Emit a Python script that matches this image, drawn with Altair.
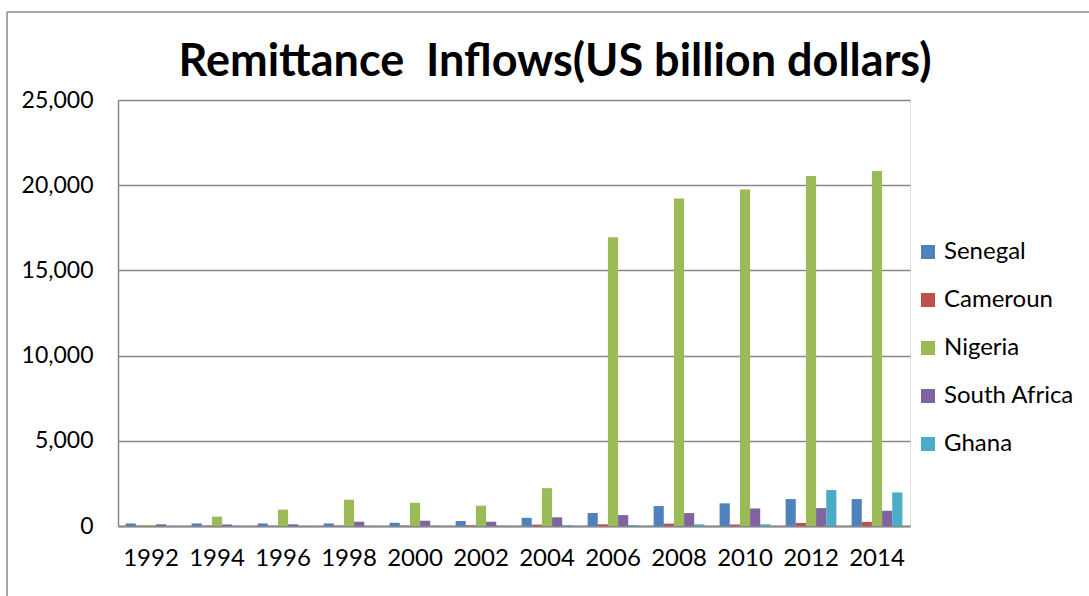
import altair as alt
import pandas as pd

years = ["1992", "1994", "1996", "1998", "2000", "2002", "2004", "2006", "2008", "2010", "2012", "2014"]
countries = ["Senegal", "Cameroun", "Nigeria", "South Africa", "Ghana"]
colors = ["#4F81BD", "#C0504D", "#9BBB59", "#8064A2", "#4BACC6"]
title_text = "Remittance\u00a0 Inflows(US billion dollars)"

senegal = [150, 150, 150, 150, 190, 290, 480, 760, 1170, 1330, 1580, 1580]
cameroun = [15, 15, 10, 15, 20, 40, 80, 100, 140, 90, 180, 240]
nigeria = [50, 550, 960, 1540, 1360, 1190, 2220, 16940, 19220, 19750, 20540, 20840]
south_africa = [100, 90, 100, 250, 310, 250, 510, 640, 760, 1030, 1050, 895]
ghana = [5, 5, 5, 5, 10, 10, 40, 60, 100, 100, 2110, 1970]

series = [senegal, cameroun, nigeria, south_africa, ghana]
rows = []
for c, vals in zip(countries, series):
    for y, v in zip(years, vals):
        rows.append({"year": y, "country": c, "value": v})
df = pd.DataFrame(rows)

FONT = "Lato"
GRID = "#888888"

bars = alt.Chart(df).mark_bar().encode(
    x=alt.X("year:N", sort=years,
            scale=alt.Scale(paddingInner=0.2308, paddingOuter=0.1154),
            axis=alt.Axis(title=None, labelAngle=0, ticks=False, domain=True,
                          domainColor=GRID, domainWidth=2, labelFontSize=24,
                          labelFont=FONT, labelColor="black", labelPadding=20)),
    xOffset=alt.XOffset("country:N", sort=countries,
                        scale=alt.Scale(paddingInner=0, paddingOuter=0)),
    y=alt.Y("value:Q", scale=alt.Scale(domain=[0, 25000], nice=False),
            axis=alt.Axis(title=None, values=[0, 5000, 10000, 15000, 20000, 25000],
                          format=",.0f", ticks=False, domain=True, domainColor=GRID,
                          domainWidth=1.5, grid=True, gridColor=GRID, gridWidth=1.5,
                          labelFontSize=23, labelFont=FONT, labelColor="black",
                          labelPadding=25)),
    color=alt.Color("country:N", sort=countries,
                    scale=alt.Scale(domain=countries, range=colors),
                    legend=alt.Legend(title=None, orient="none", legendX=798, legendY=140,
                                      symbolType="square", symbolSize=196,
                                      symbolStrokeWidth=0, labelFontSize=24,
                                      labelFont=FONT, labelColor="black",
                                      labelOffset=4, rowPadding=24, padding=0)),
)

frame_df = pd.DataFrame({"a": [0]})
top_line = alt.Chart(frame_df).mark_rule(color=GRID, strokeWidth=1.5, clip=False).encode(
    x=alt.value(-111), x2=alt.value(971), y=alt.value(-88))
left_line = alt.Chart(frame_df).mark_rule(color=GRID, strokeWidth=1.5, clip=False).encode(
    x=alt.value(-111), y=alt.value(-88), y2=alt.value(496))

title_df = pd.DataFrame({"t": [title_text]})
title = alt.Chart(title_df).mark_text(
    font=FONT, fontSize=45, fontWeight="bold", color="black",
    align="center", baseline="alphabetic", clip=False,
).encode(text="t:N", x=alt.value(437), y=alt.value(-24))

chart = alt.layer(bars, top_line, left_line, title).properties(
    width=792, height=426,
    autosize=alt.AutoSizeParams(type="none"),
    padding={"left": 118, "top": 100, "right": 179, "bottom": 70},
).configure_view(strokeWidth=0).configure(background="white")

chart.save("out.html", embed_options={"renderer": "svg", "actions": False})
